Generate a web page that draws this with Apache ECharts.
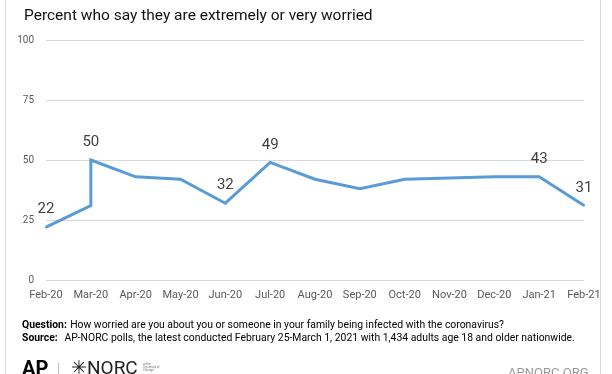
<!DOCTYPE html>
<html>
<head>
<meta charset="utf-8">
<script src="https://cdn.jsdelivr.net/npm/echarts@6/dist/echarts.min.js"></script>
<style>
html,body{margin:0;padding:0;background:#fff;}
#chart{width:612px;height:374px;}
</style>
</head>
<body>
<div id="chart"></div>
<script>
// Data
var months = ['Feb-20','Mar-20','Apr-20','May-20','Jun-20','Jul-20','Aug-20','Sep-20','Oct-20','Nov-20','Dec-20','Jan-21','Feb-21'];
var pointMonths = ['Feb-20','Mar-20','Mar-20','Apr-20','May-20','Jun-20','Jul-20','Aug-20','Sep-20','Oct-20','Dec-20','Jan-21','Feb-21'];
var pointValues = [22,31,50,43,42,32,49,42,38,42,43,43,31];
var labeledPoints = [true,false,true,false,false,true,true,false,false,false,false,true,true];
var yTicks = [0,25,50,75,100];

var titleText = 'Percent who say they are extremely or very worried';
var questionText = 'How worried are you about you or someone in your family being infected with the coronavirus?';
var sourceText = 'AP-NORC polls, the latest conducted February 25-March 1, 2021 with 1,434 adults age 18 and older nationwide.';

var seriesData = pointMonths.map(function(m, i){
  return [months.indexOf(m), pointValues[i]];
});

var chart = echarts.init(document.getElementById('chart'), null, {renderer:'canvas'});
var font = 'Roboto, "Liberation Sans", sans-serif';
chart.setOption({
  animation: false,
  backgroundColor: '#fff',
  title: {
    text: titleText,
    left: 19, top: 3,
    textStyle: {fontFamily: font, fontSize: 15.5, fontWeight: 'normal', color: '#111'}
  },
  grid: {left: 46, right: 28, top: 40, bottom: 94, containLabel: false},
  xAxis: {
    type: 'value', min: 0, max: months.length - 1, interval: 1,
    axisLine: {show: false}, axisTick: {show: false}, splitLine: {show: false},
    axisLabel: {
      margin: 10,
      fontFamily: font, fontSize: 11, color: '#595959',
      formatter: function(v){ return months[v] || ''; }
    }
  },
  yAxis: {
    type: 'value', min: yTicks[0], max: yTicks[yTicks.length-1], interval: 25,
    axisLine: {show: false}, axisTick: {show: false},
    splitLine: {lineStyle: {color: '#d9d9d9', width: 1}},
    axisLabel: {margin: 12, fontFamily: font, fontSize: 10, color: '#595959'}
  },
  series: [{
    type: 'line',
    data: seriesData,
    showSymbol: true,
    symbol: 'circle',
    symbolSize: 2,
    itemStyle: {color: '#5b9bd5'},
    lineStyle: {color: '#5b9bd5', width: 3, join: 'miter'},
    label: {
      show: true,
      position: 'top', distance: 9,
      fontFamily: font, fontSize: 15, color: '#404040',
      formatter: function(p){ return labeledPoints[p.dataIndex] ? String(p.value[1]) : ''; }
    }
  }],
  graphic: [
    {type: 'rect', shape: {x: 5.5, y: -2, width: 595, height: 400},
     style: {fill: 'none', stroke: '#d9d9d9', lineWidth: 1}, silent: true},
    {type: 'text', left: 22, top: 319,
     style: {rich: {b: {fontFamily: font, fontSize: 10.4, fontWeight: 'bold', fill: '#000'},
                    n: {fontFamily: font, fontSize: 10.4, fill: '#000'}},
             text: '{b|Question:} {n|' + questionText + '}'}},
    {type: 'text', left: 22, top: 332,
     style: {rich: {b: {fontFamily: font, fontSize: 10.4, fontWeight: 'bold', fill: '#000'},
                    n: {fontFamily: font, fontSize: 10.4, fill: '#000'}},
             text: '{b|Source:}  {n|' + sourceText + '}'}},
    {type: 'text', left: 22, top: 360,
     style: {text: 'AP', fontFamily: font, fontSize: 20, fontWeight: 'bold', fill: '#000'}},
    {type: 'rect', shape: {x: 58, y: 363, width: 1, height: 12}, style: {fill: '#bbb'}},
    {type: 'text', left: 71, top: 360,
     style: {text: '\u2733NORC', fontFamily: font, fontSize: 19, fill: '#222'}},
    {type: 'text', left: 143, top: 363,
     style: {text: 'at the\nUniversity of\nChicago', fontFamily: font, fontSize: 3, lineHeight: 3, fill: '#777'}},
    {type: 'text', left: 508, top: 367,
     style: {text: 'APNORC.ORG', fontFamily: font, fontSize: 13, fill: '#999'}}
  ]
});
</script>
</body>
</html>
